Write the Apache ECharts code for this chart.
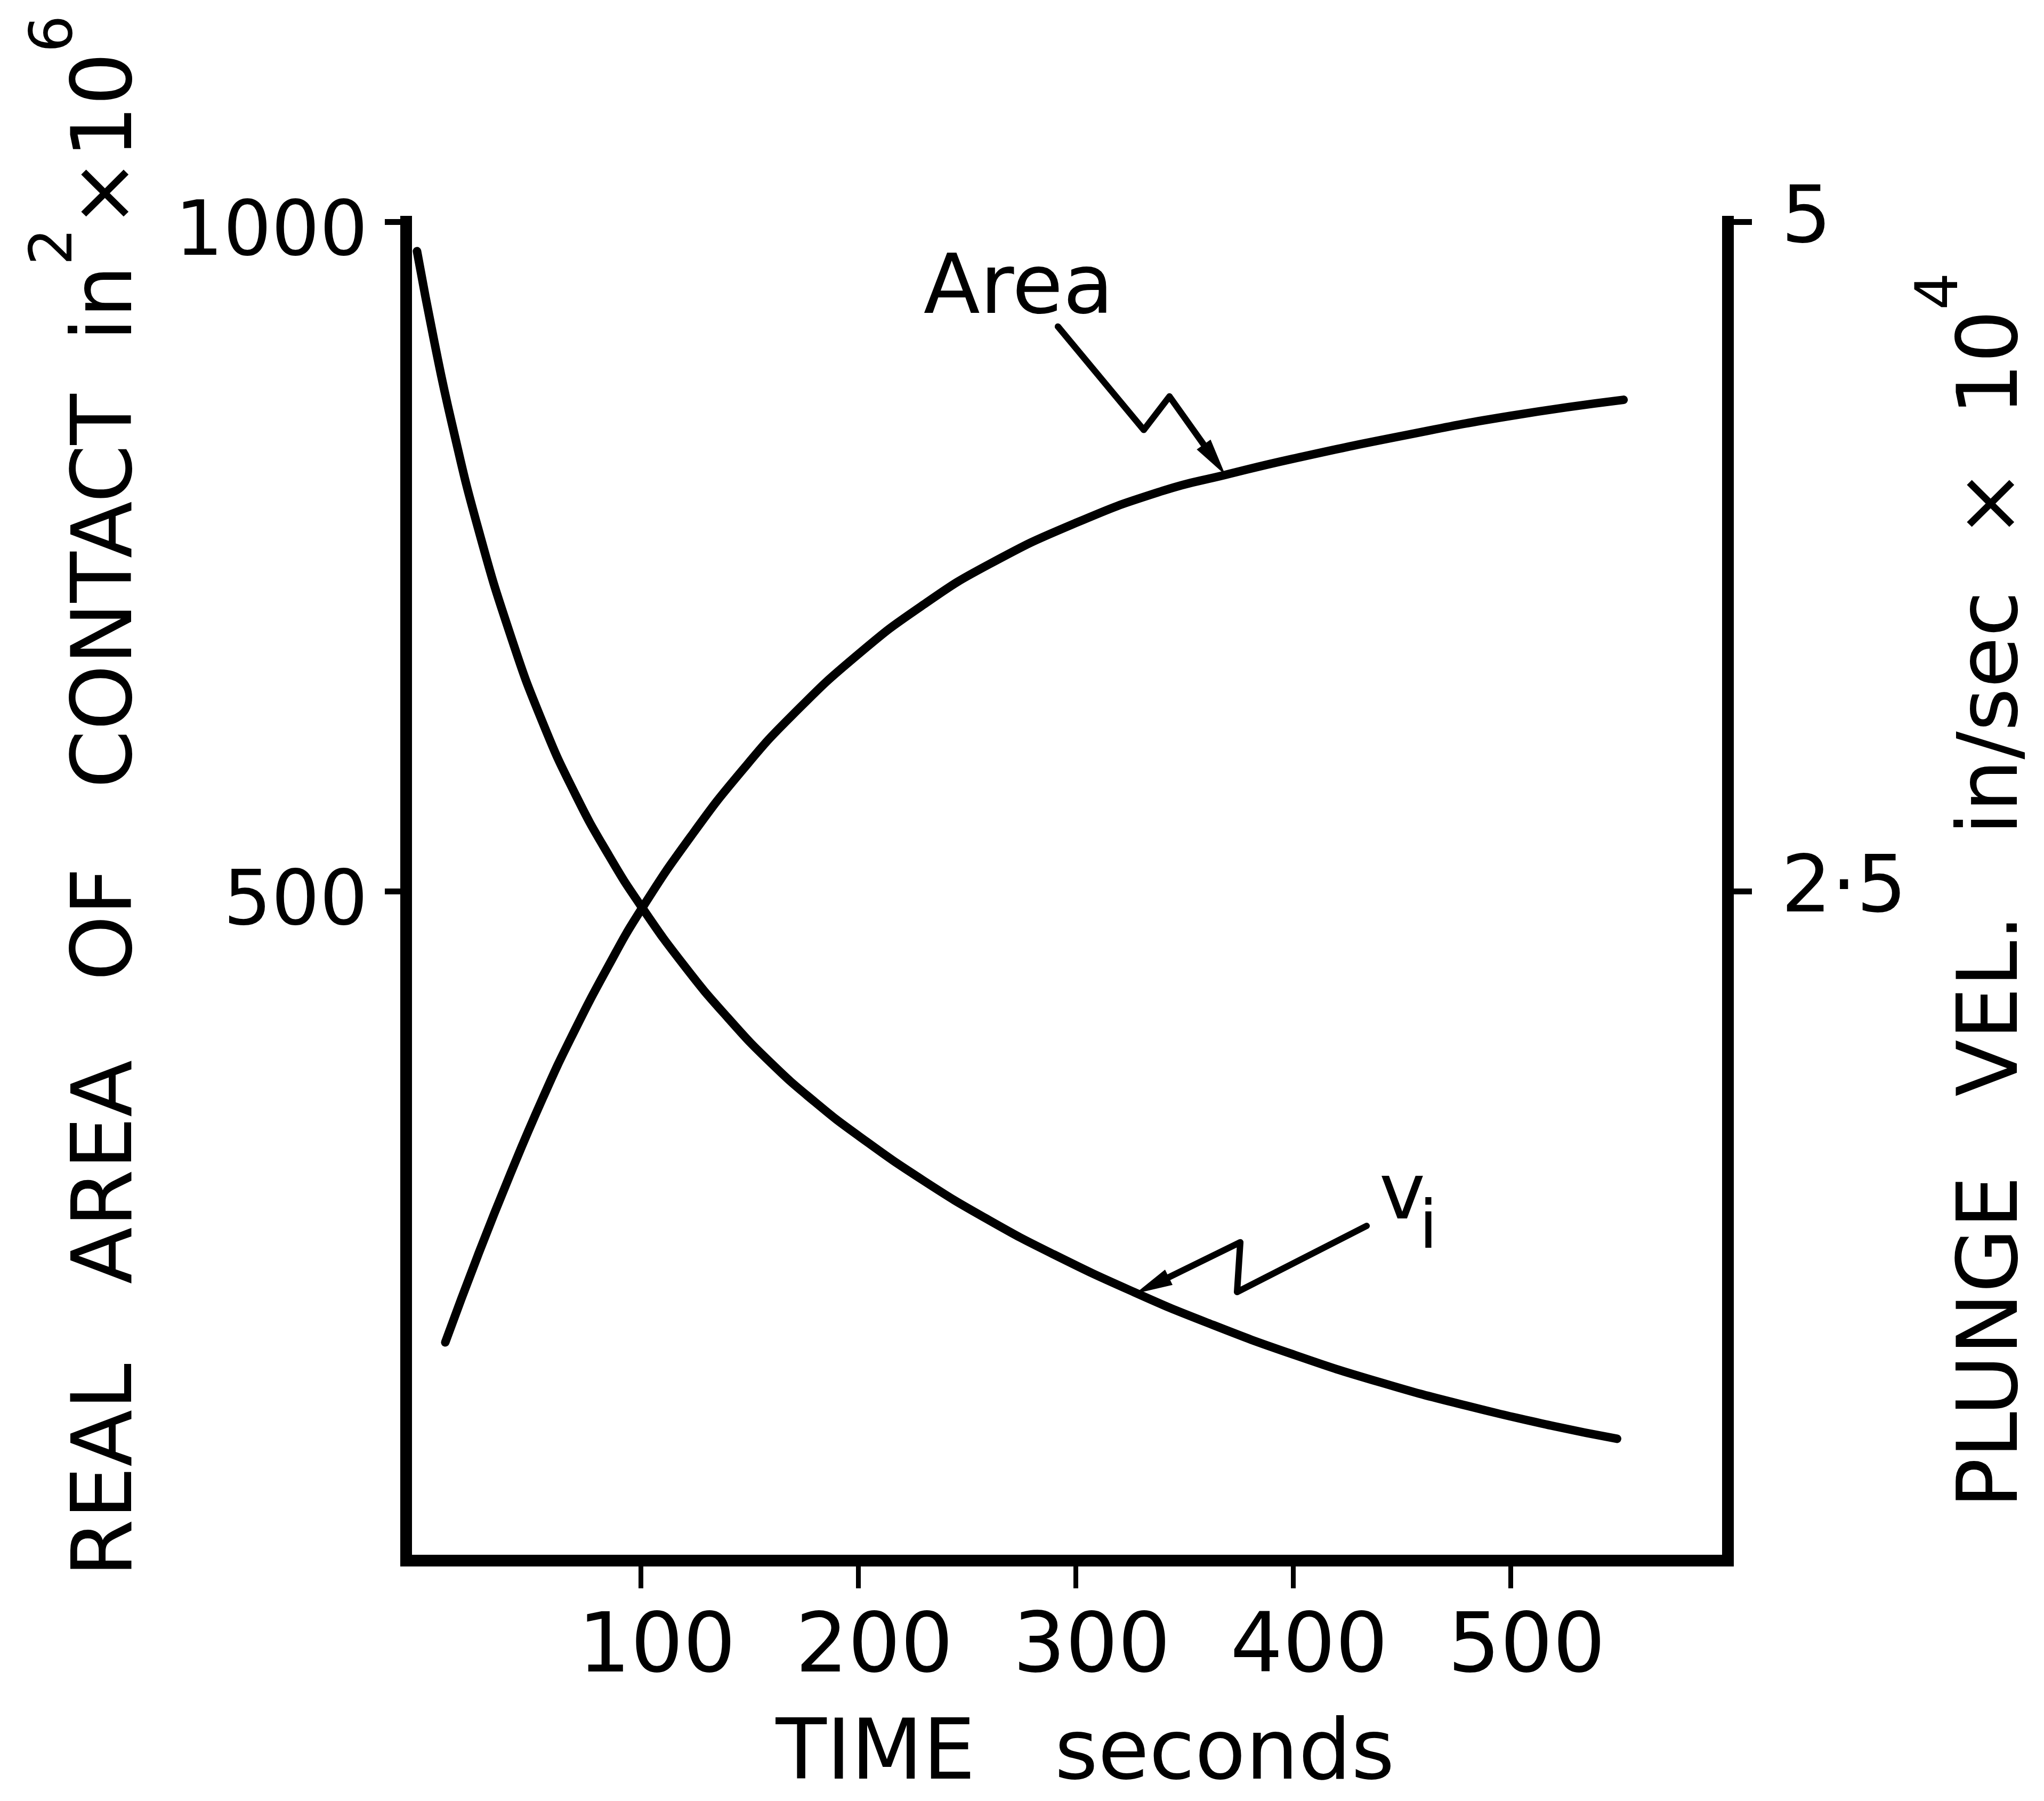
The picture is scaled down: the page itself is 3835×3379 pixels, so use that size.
<!DOCTYPE html>
<html>
<head>
<meta charset="utf-8">
<title>Real area of contact and plunge velocity vs time</title>
<script src="https://cdn.jsdelivr.net/npm/echarts@6/dist/echarts.min.js"></script>
<style>
  html, body { margin: 0; padding: 0; background: #fff; }
  #chart { width: 3835px; height: 3379px; }
</style>
</head>
<body>
<div id="chart"></div>
<script>
// real area of contact (in^2 x 10^6) against time (s)
const areaTime = [10, 25, 40, 55, 68, 85, 100, 123, 147, 170, 200, 230, 260, 300, 340, 369, 400, 450, 500, 552]
const areaValues = [163, 228, 289, 346, 391, 444, 486, 541, 591, 632, 677, 714, 744, 775, 799, 811, 823, 840, 855, 867]

// plunge velocity v_i (in/sec x 10^4) against time (s)
const velTime = [-3, 5, 13, 25, 40, 55, 70, 85, 100, 120, 140, 160, 180, 200, 230, 260, 290, 327, 360, 400, 440, 480, 520, 549]
const velValues = [4.89, 4.55, 4.248, 3.858, 3.456, 3.126, 2.859, 2.637, 2.445, 2.221, 2.027, 1.857, 1.713, 1.587, 1.419, 1.272, 1.143, 1.002, 0.89, 0.77, 0.666, 0.578, 0.502, 0.455]

const timeTicks = [100, 200, 300, 400, 500]
const areaTicks = [500, 1000]
const velTicks = [2.5, 5]

// zigzag leaders for the curve labels, in data units (last point = arrow tip)
const areaLeader = [[291.8, 921.7], [331.3, 844.5], [343.1, 869.5], [368.8, 810.9]]
const velLeader = [[433.8, 1.25], [374.2, 1.003], [375.7, 1.189], [327.4, 0.997]]
const areaLabelAt = [273.7, 948]
const velLabelAt = [450.2, 1.353]
const velSubAt = [462.2, 1.234]

const INK = '#000'
const FONT = '"DejaVu Sans", sans-serif'

// rich styles for rotated axis titles: a tall empty strut sets the line box,
// the body text sits at its bottom and the exponent at its top
const titleRich = {
  g: { fontSize: 10, lineHeight: 233 },
  t: { fontSize: 156, fontFamily: FONT, color: INK, lineHeight: 156, verticalAlign: 'bottom' },
  s: { fontSize: 110, fontFamily: FONT, color: INK, lineHeight: 105, verticalAlign: 'top' }
}

const chart = echarts.init(document.getElementById('chart'), null, { renderer: 'canvas' })

const axisLine = { show: true, onZero: false, lineStyle: { color: INK, width: 22, cap: 'square' } }

chart.setOption({
  animation: false,
  backgroundColor: '#fff',
  grid: { left: 762, right: 593, top: 416, bottom: 435, containLabel: false },
  xAxis: {
    type: 'value',
    min: -8,
    max: 600,
    axisLine: axisLine,
    axisTick: { show: true, customValues: timeTicks, length: 52, lineStyle: { color: INK, width: 9 } },
    axisLabel: {
      customValues: timeTicks,
      margin: 90,
      padding: [0, 0, 0, 60],
      fontSize: 155,
      fontFamily: FONT,
      color: INK
    },
    splitLine: { show: false },
    name: '{t|TIME   seconds}',
    nameLocation: 'middle',
    nameGap: 290,
    nameTextStyle: {
      padding: [0, 0, 0, 68],
      rich: { t: { fontSize: 156, fontFamily: FONT, color: INK } }
    }
  },
  yAxis: [
    {
      type: 'value',
      position: 'left',
      min: 0,
      max: 1000,
      axisLine: axisLine,
      axisTick: { show: true, customValues: areaTicks, length: 40, lineStyle: { color: INK, width: 11 } },
      axisLabel: {
        customValues: areaTicks,
        margin: 72,
        verticalAlign: 'top',
        lineHeight: 50,
        fontSize: 142,
        fontFamily: FONT,
        color: INK,
        formatter: v => String(v)
      },
      splitLine: { show: false },
      name: '{g| }{t|REAL   AREA   OF   CONTACT  in}{s|2}{t|×10}{s|6}',
      nameLocation: 'middle',
      nameRotate: 90,
      nameGap: 479,
      nameTextStyle: { padding: [0, 0, 0, 354], rich: titleRich }
    },
    {
      type: 'value',
      position: 'right',
      min: 0,
      max: 5,
      axisLine: axisLine,
      axisTick: { show: true, customValues: velTicks, length: 45, lineStyle: { color: INK, width: 11 } },
      axisLabel: {
        customValues: velTicks,
        margin: 100,
        fontSize: 148,
        fontFamily: FONT,
        color: INK,
        formatter: v => (v === 2.5 ? '2·5' : String(v))
      },
      splitLine: { show: false },
      name: '{g| }{t|PLUNGE   VEL.   in/sec  ×  10}{s|4}',
      nameLocation: 'middle',
      nameRotate: 90,
      nameGap: 334,
      nameTextStyle: { rich: titleRich }
    }
  ],
  series: [
    {
      name: 'Area',
      type: 'line',
      yAxisIndex: 0,
      data: areaTime.map((t, i) => [t, areaValues[i]]),
      smooth: 0.5,
      symbol: 'none',
      lineStyle: { color: INK, width: 16, cap: 'round' }
    },
    {
      name: 'v_i',
      type: 'line',
      yAxisIndex: 1,
      data: velTime.map((t, i) => [t, velValues[i]]),
      smooth: 0.5,
      symbol: 'none',
      lineStyle: { color: INK, width: 16, cap: 'round' }
    }
  ]
})

// labels and zigzag arrows, placed through the series' own coordinate systems
function toPx(seriesIndex, pt) {
  return chart.convertToPixel({ seriesIndex: seriesIndex }, pt)
}

function arrow(points) {
  const n = points.length
  const tip = points[n - 1]
  const prev = points[n - 2]
  const dx = tip[0] - prev[0]
  const dy = tip[1] - prev[1]
  const len = Math.hypot(dx, dy)
  const ux = dx / len
  const uy = dy / len
  const headLen = 70
  const half = 16
  const bx = tip[0] - ux * headLen
  const by = tip[1] - uy * headLen
  return [
    {
      type: 'polyline',
      shape: { points: points.slice(0, n - 1).concat([[bx, by]]) },
      style: { stroke: INK, lineWidth: 12, fill: null, lineJoin: 'round', lineCap: 'round' }
    },
    {
      type: 'polygon',
      shape: { points: [tip, [bx - uy * half, by + ux * half], [bx + uy * half, by - ux * half]] },
      style: { fill: INK }
    }
  ]
}

function label(pos, text, size) {
  return {
    type: 'text',
    x: pos[0],
    y: pos[1],
    style: { text: text, fontSize: size, fontFamily: FONT, fill: INK, align: 'center', verticalAlign: 'middle' }
  }
}

function drawNotes() {
  const graphic = []
    .concat(arrow(areaLeader.map(p => toPx(0, p))))
    .concat(arrow(velLeader.map(p => toPx(1, p))))
  graphic.push(label(toPx(0, areaLabelAt), 'Area', 155))
  graphic.push(label(toPx(1, velLabelAt), 'v', 146))
  graphic.push(label(toPx(1, velSubAt), 'i', 125))
  chart.setOption({ graphic: graphic })
}

drawNotes()
window.addEventListener('resize', () => {
  chart.resize()
  drawNotes()
})
</script>
</body>
</html>
